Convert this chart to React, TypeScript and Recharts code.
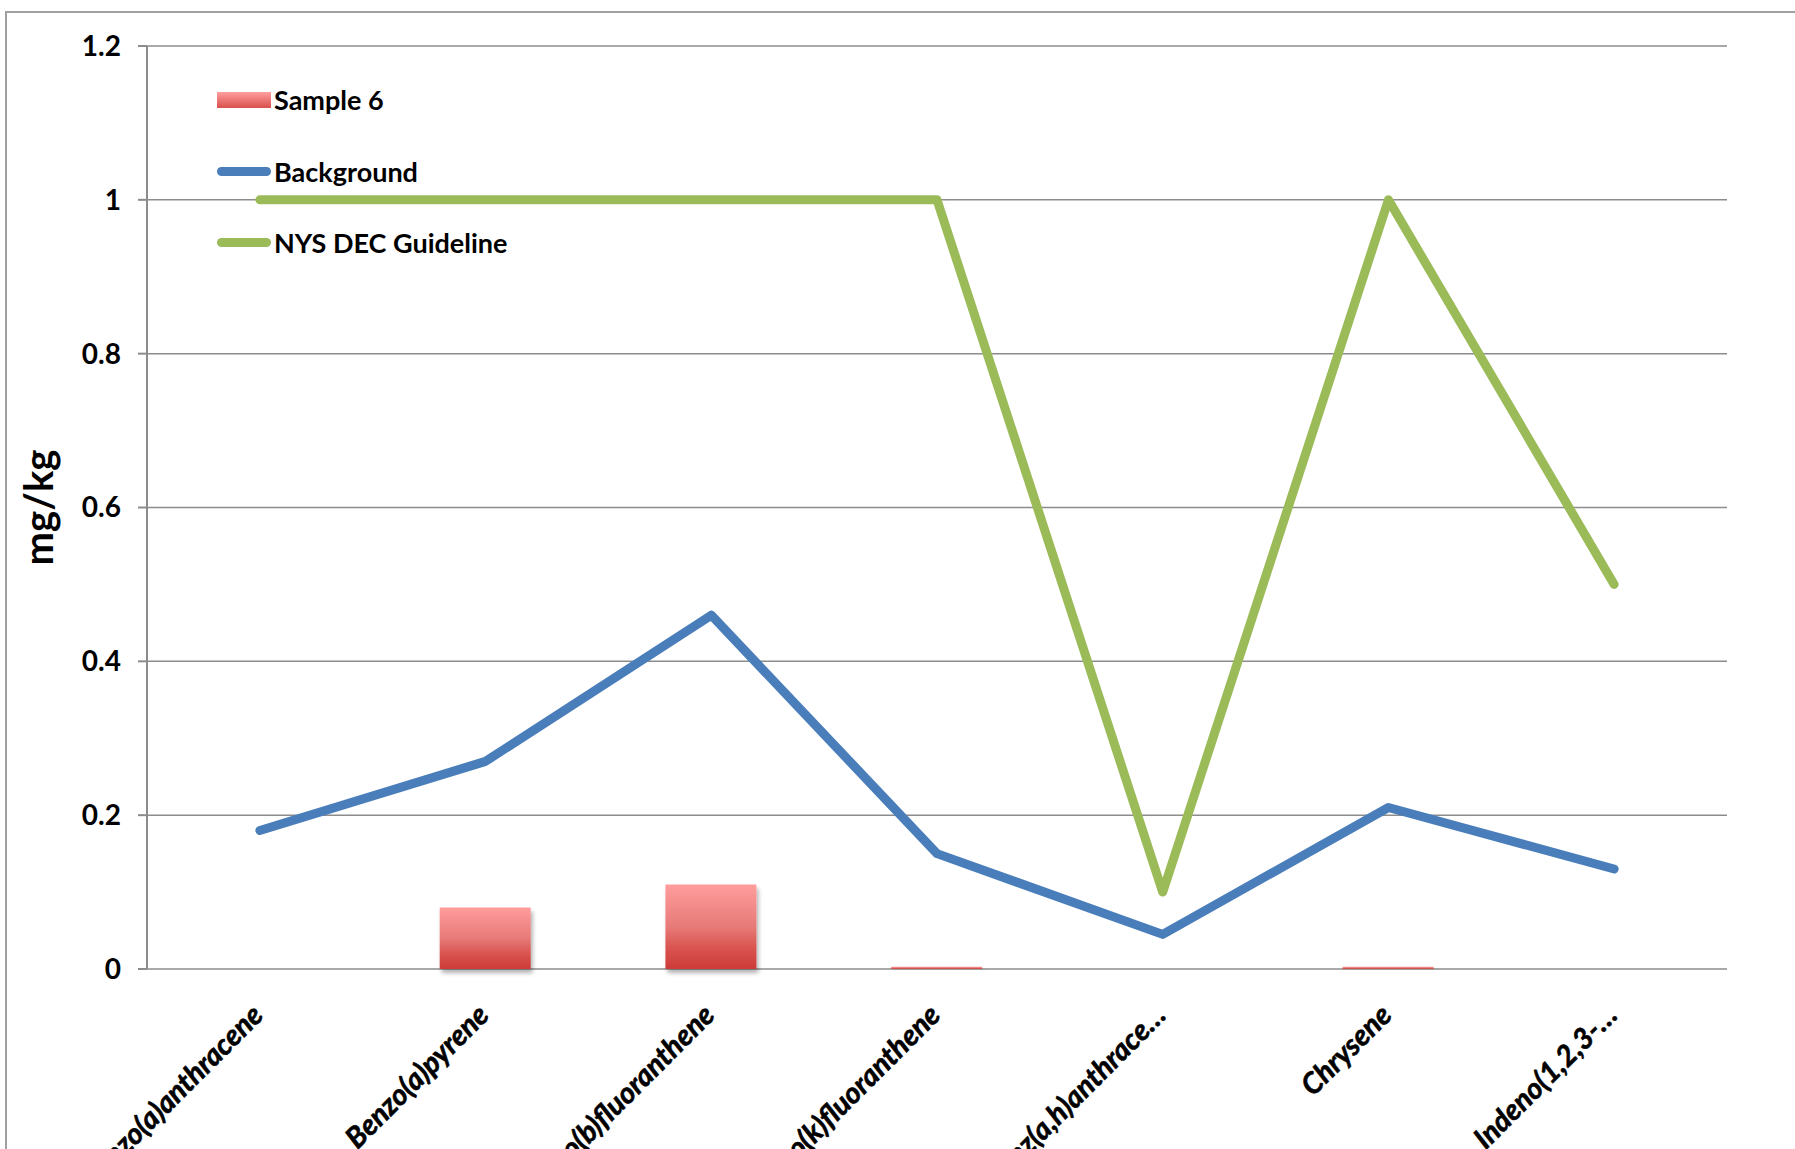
import { Bar, CartesianGrid, ComposedChart, Legend, Line, XAxis, YAxis } from "recharts";

const compounds = [
  "Benzo(a)anthracene",
  "Benzo(a)pyrene",
  "Benzo(b)fluoranthene",
  "Benzo(k)fluoranthene",
  "Dibenz(a,h)anthrace…",
  "Chrysene",
  "Indeno(1,2,3-…",
];
const sample6 = [null, 0.08, 0.11, 0.003, null, 0.003, null];
const background = [0.18, 0.27, 0.46, 0.15, 0.045, 0.21, 0.13];
const guideline = [1, 1, 1, 1, 0.1, 1, 0.5];
const yTicks = [0, 0.2, 0.4, 0.6, 0.8, 1, 1.2];
const slotEdges = [0, 1, 2, 3, 4, 5, 6, 7];
const legendOrder = ["sample6", "background", "guideline"];

const data = compounds.map((name, i) => ({
  name,
  slot: i + 0.5,
  sample6: sample6[i],
  background: background[i],
  guideline: guideline[i],
}));

const FONT = "Lato, 'Open Sans', sans-serif";
const GRID = "#8c8c8c";
const BLUE = "#4a7ebb";
const GREEN = "#9bbb59";

function CompoundTick({ x, y, payload }: any) {
  const tx = x + 5;
  const ty = y + 40;
  return (
    <text
      x={tx}
      y={ty}
      transform={`rotate(-45, ${tx}, ${ty})`}
      textAnchor="end"
      fontFamily={FONT}
      fontWeight={700}
      fontStyle="italic"
      fontSize={29}
      fill="#000"
      stroke="#000"
      strokeWidth={0.6}
    >
      {payload.value}
    </text>
  );
}

function YLabel({ viewBox }: any) {
  const cx = 38;
  const cy = viewBox.y + viewBox.height / 2;
  return (
    <text
      x={cx}
      y={cy}
      transform={`rotate(-90, ${cx}, ${cy})`}
      textAnchor="middle"
      dominantBaseline="central"
      fontFamily={FONT}
      fontWeight={700}
      fontSize={40}
      fill="#000"
    >
      mg/kg
    </text>
  );
}

function renderLegend({ payload }: any) {
  const items = [...(payload || [])].sort(
    (a: any, b: any) => legendOrder.indexOf(a.dataKey) - legendOrder.indexOf(b.dataKey)
  );
  return (
    <div style={{ fontFamily: FONT, fontWeight: 700, fontSize: 27, color: "#000" }}>
      {items.map((entry: any) => {
        const isBar = entry.dataKey === "sample6";
        const swatch = isBar
          ? { height: 16, background: "linear-gradient(#ff9e9e, #d9504c)" }
          : { height: 9, borderRadius: 5, background: entry.color };
        return (
          <div
            key={entry.dataKey}
            style={{ display: "flex", alignItems: "center", height: 71.5, whiteSpace: "nowrap" }}
          >
            <div style={{ width: 54, marginRight: 3, ...swatch }} />
            <span>{entry.value}</span>
          </div>
        );
      })}
    </div>
  );
}

export default function App() {
  return (
    <div
      style={{
        position: "absolute",
        left: 0,
        top: 0,
        width: 1795,
        height: 1149,
        overflow: "hidden",
        background: "#fff",
      }}
    >
      <div
        style={{
          position: "absolute",
          left: 5,
          top: 11,
          width: 2000,
          height: 1400,
          border: "2px solid #a0a0a0",
        }}
      />
      <div style={{ position: "absolute", left: 0, top: 0 }}>
        <ComposedChart
          width={1795}
          height={1149}
          data={data}
          margin={{ top: 46, right: 68, left: 0, bottom: 0 }}
        >
          <defs>
            <linearGradient id="sampleFill" x1="0" y1="0" x2="0" y2="1">
              <stop offset="0%" stopColor="#ff9d9d" />
              <stop offset="50%" stopColor="#e77a78" />
              <stop offset="75%" stopColor="#d95450" />
              <stop offset="100%" stopColor="#cd3b37" />
            </linearGradient>
            <filter id="barShadow" x="-10%" y="-10%" width="130%" height="130%">
              <feDropShadow dx="2" dy="4" stdDeviation="2" floodColor="#000" floodOpacity="0.3" />
            </filter>
          </defs>
          <CartesianGrid horizontal vertical={false} stroke={GRID} strokeWidth={1.5} />
          <XAxis
            xAxisId="edges"
            type="number"
            dataKey="slot"
            domain={[0, 7]}
            ticks={slotEdges}
            height={0}
            tick={false}
            tickSize={9}
            tickLine={{ stroke: GRID, strokeWidth: 2 }}
            axisLine={{ stroke: GRID, strokeWidth: 2 }}
          />
          <XAxis
            dataKey="name"
            height={180}
            interval={0}
            axisLine={false}
            tickLine={false}
            tick={<CompoundTick />}
          />
          <YAxis
            width={147}
            domain={[0, 1.2]}
            ticks={yTicks}
            tickSize={9}
            tickMargin={17}
            axisLine={{ stroke: GRID, strokeWidth: 2 }}
            tickLine={{ stroke: GRID, strokeWidth: 2 }}
            tick={{ fontFamily: FONT, fontWeight: 700, fontSize: 28, fill: "#000" }}
            label={{ content: <YLabel /> }}
          />
          <Legend
            layout="vertical"
            align="center"
            verticalAlign="middle"
            wrapperStyle={{ left: 217, top: 64, width: "auto" }}
            content={renderLegend}
          />
          <Bar
            dataKey="sample6"
            name="Sample 6"
            barSize={91}
            fill="url(#sampleFill)"
            filter="url(#barShadow)"
            isAnimationActive={false}
          />
          <Line
            type="linear"
            dataKey="background"
            name="Background"
            stroke={BLUE}
            strokeWidth={9}
            strokeLinecap="round"
            strokeLinejoin="round"
            dot={false}
            activeDot={false}
            isAnimationActive={false}
          />
          <Line
            type="linear"
            dataKey="guideline"
            name="NYS DEC Guideline"
            stroke={GREEN}
            strokeWidth={9}
            strokeLinecap="round"
            strokeLinejoin="round"
            dot={false}
            activeDot={false}
            isAnimationActive={false}
          />
        </ComposedChart>
      </div>
    </div>
  );
}
